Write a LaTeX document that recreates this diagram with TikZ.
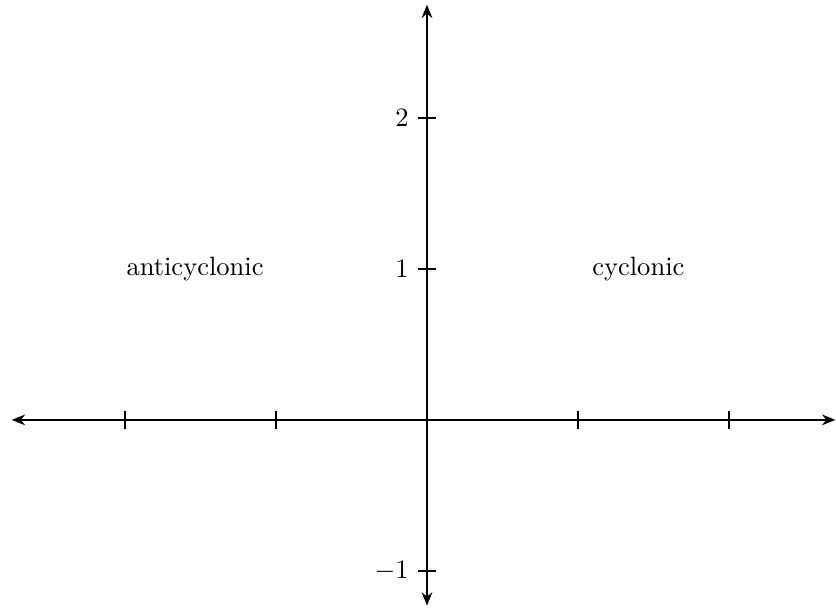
\documentclass[tikz,border=0pt]{standalone}
\usetikzlibrary{arrows.meta}
\begin{document}
\begin{tikzpicture}[x=2cm,y=2cm,
  axis/.style={line width=0.9pt,{Stealth[length=5pt,width=4pt]}-{Stealth[length=5pt,width=4pt]}},
  tick/.style={line width=0.9pt},
  lbl/.style={font=\normalsize}]
\useasboundingbox (-2.828,-1.245) rectangle (2.709,2.781);
\coordinate (xl) at (-2.75,0);
\coordinate (xr) at (2.705,0);
\coordinate (yb) at (0,-1.23);
\coordinate (yt) at (0,2.75);
\draw[axis] (xl) -- (xr);
\draw[axis] (yb) -- (yt);
\foreach \x in {-2,-1,1,2} \draw[tick] (\x,-0.06) -- (\x,0.06);
\foreach \y in {-1,1,2} {
  \draw[tick] (-0.06,\y) -- (0.06,\y);
  \node[lbl,anchor=east] (l\y) at (-0.06,\y) {$\y$};
}
\node[lbl] (anti) at (-1.536,1) {anticyclonic};
\node[lbl] (cyc) at (1.40,1) {cyclonic};
\end{tikzpicture}
\end{document}
